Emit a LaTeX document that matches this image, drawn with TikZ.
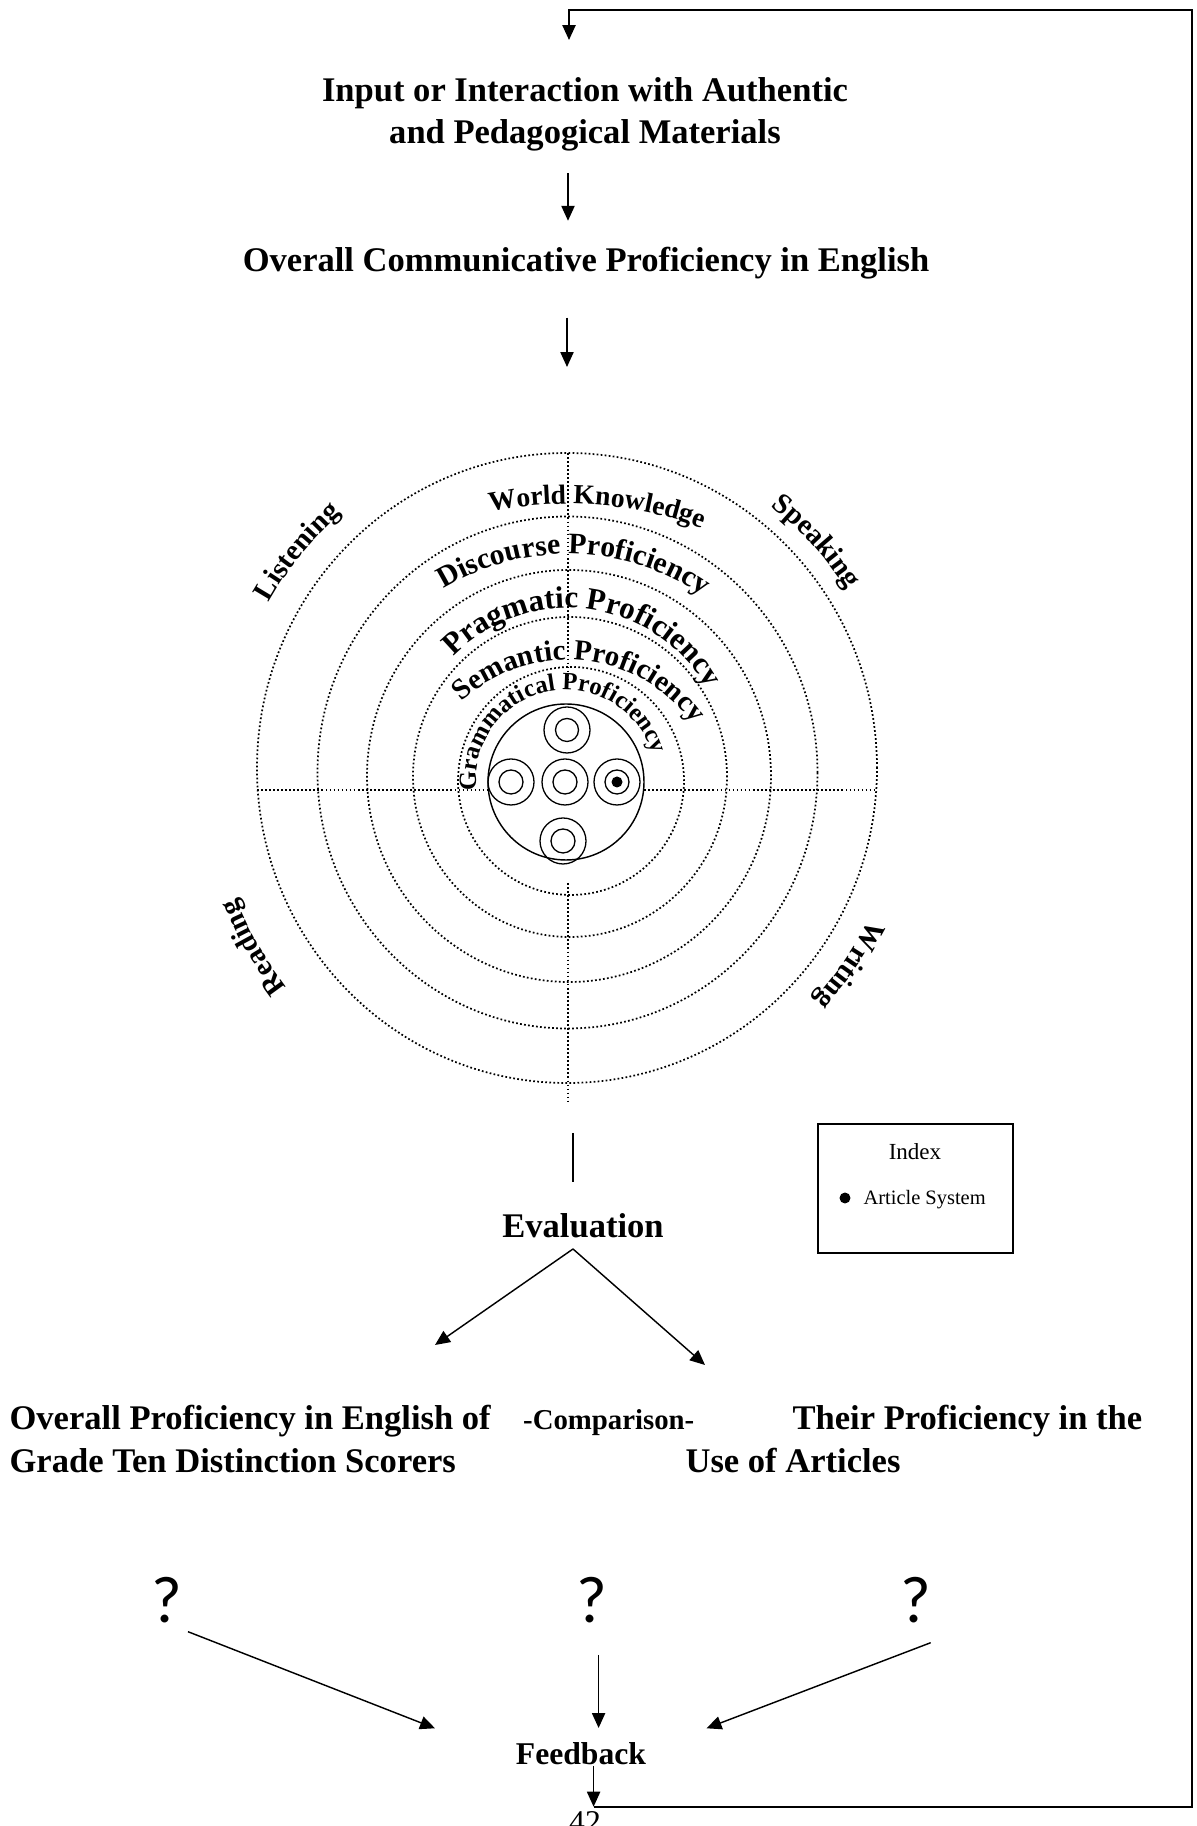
\documentclass[tikz,border=0pt]{standalone}
\usepackage{fontspec}
\setmainfont{Liberation Serif}
\newfontfamily\qfont{Carlito}
\usetikzlibrary{arrows.meta,decorations.text}

\tikzset{
  arr/.style={-{Triangle[length=5.2pt,width=4.6pt]}, line width=0.5pt},
  ring/.style={line width=0.6pt, dash pattern=on 0.6pt off 0.8pt},
  sat/.style={line width=0.45pt},
  big/.style={font=\fontsize{12}{14.8}\selectfont\bfseries, inner sep=0pt},
  qm/.style={font=\qfont\fontsize{23}{23}\selectfont, inner sep=0pt, anchor=base},
  lab/.style 2 args={decorate, decoration={text along path, text align=center,
      text={|\fontsize{#1}{#1}\selectfont\bfseries|#2}}},
}

\begin{document}
\begin{tikzpicture}[x=0.0122cm, y=0.0122cm]
\useasboundingbox (0,0) rectangle (1197,1826);

% rings of proficiency
\draw[ring] (567,1058) ellipse [x radius=310, y radius=315];
\draw[ring] (567.5,1053.5) ellipse [x radius=250, y radius=256];
\draw[ring] (569,1050) ellipse [x radius=202, y radius=206];
\draw[ring] (570,1049) ellipse [x radius=157, y radius=160];
\draw[ring] (571,1045) ellipse [x radius=113, y radius=114];
\draw[ring] (257,1036) -- (877,1036);
\draw[ring] (568,1373) -- (568,1144);
\draw[ring] (568,943) -- (568,723);

% core
\draw[line width=0.5pt, fill=white] (566,1044) circle [radius=78];
\draw[sat] (567,1096) circle [radius=23] (567,1096) circle [radius=11.5];
\draw[sat] (511,1044) circle [radius=23] (511,1044) circle [radius=12];
\draw[sat] (565,1044) circle [radius=23] (565,1044) circle [radius=12];
\draw[sat] (617,1044) circle [radius=23] (617,1044) circle [radius=12];
\draw[sat] (563,985) circle [radius=23] (563,985) circle [radius=12];
\fill (617,1044) circle [radius=5.5];

% skills
\path[lab={10}{Listening}] (567,1056) ++(166:342) arc[start angle=166, end angle=116, radius=342];
\path[lab={10}{Speaking}] (567,1056) ++(67.5:333) arc[start angle=67.5, end angle=17.5, radius=333];
\path[lab={10}{Reading}] (567,1056) ++(234.5:355) arc[start angle=234.5, end angle=184.5, radius=355];
\path[lab={10}{Writing}] (567,1056) ++(350.3:337) arc[start angle=350.3, end angle=300.3, radius=337];

% competences
\path[lab={9.6}{World Knowledge}] (568,939) ++(110.6:383) arc[start angle=110.6, end angle=60.6, radius=383];
\path[lab={10.3}{Discourse Proficiency}] (568,1034) ++(133.5:238) arc[start angle=133.5, end angle=43.5, radius=238];
\path[lab={10.8}{Pragmatic Proficiency}] (568,1058) ++(147.8:160) arc[start angle=147.8, end angle=17.8, radius=160];
\path[lab={10.1}{Semantic Proficiency}] (568,1012) ++(149.6:154) arc[start angle=149.6, end angle=19.6, radius=154];
\path[lab={8.6}{Grammatical Proficiency}] (566,1046) ++(199:90) arc[start angle=199, end angle=4, radius=90];

% texts
\node[big, anchor=north, align=center] (inp) at (585,1749.4) {Input or Interaction with Authentic\\and Pedagogical Materials};
\node[big, anchor=base] (ocp) at (586,1554) {Overall Communicative Proficiency in English};
\node[big, anchor=base] (eval) at (583,588) {Evaluation};
\node[big, anchor=base west] (ovl1) at (9,396) {Overall Proficiency in English of};
\node[big, anchor=base west] (ovl2) at (9,353) {Grade Ten Distinction Scorers};
\node[big, anchor=base west, font=\fontsize{10}{12}\selectfont\bfseries] (cmp) at (522.6,396) {-Comparison-};
\node[big, anchor=base west] (thr1) at (792,396) {Their Proficiency in the};
\node[big, anchor=base west] (thr2) at (685,353) {Use of Articles};
\node[qm] (q1) at (167,203) {?};
\node[qm] (q2) at (592,203) {?};
\node[qm] (q3) at (916,203) {?};
\node[big, anchor=base, font=\fontsize{11}{13}\selectfont\bfseries] (fb) at (581,61) {Feedback};
\node[inner sep=0pt, anchor=base, font=\fontsize{11}{13}\selectfont] (pg) at (585,-7) {42};

% index
\node[draw, line width=0.6pt, inner sep=0pt, minimum width=2.379cm, minimum height=1.574cm] (idx) at (915.2,637.2) {};
\node[inner sep=0pt, font=\fontsize{8}{9}\selectfont] (idxt) at (915,674) {Index};
\node[circle, fill, inner sep=0pt, minimum size=0.134cm] (bul) at (845,628) {};
\node[inner sep=0pt, anchor=west, font=\fontsize{7.1}{8.5}\selectfont] (art) at (863,626) {Article System};

% connectors
\coordinate (lb) at (593.6,19.3);
\coordinate (rt) at (1192,1816);
\coordinate (tp) at (569,1816);
\coordinate (in) at (569,1786);
\coordinate (cp) at (567,1459);
\coordinate (vt) at (573,693);
\coordinate (ltip) at (435,481);
\coordinate (rtip) at (705,461);
\coordinate (fl) at (435,97.7);
\coordinate (fm) at (598.6,98);
\coordinate (fr) at (706.5,97.7);

\draw[arr] (fb.south -| lb) -- (lb);
\draw[arr, line width=0.6pt] (lb) -| (rt) -- (tp) -- (in);
\draw[arr] ([shift={(-17,-21.5)}]inp.south) -- ([shift={(-18,26.3)}]ocp.north);
\draw[arr] ([shift={(-19,-37.5)}]ocp.south) -- (cp);
\draw[line width=0.6pt] (vt) -- ([shift={(-10,31.6)}]eval.north);
\draw[arr] ([shift={(-10,-10)}]eval.south) -- (ltip);
\draw[arr] ([shift={(-10,-10)}]eval.south) -- (rtip);
\draw[arr] ([shift={(21,-8.7)}]q1.base) -- (fl);
\draw[arr] ([shift={(6.6,-32)}]q2.base) -- (fm);
\draw[arr] ([shift={(14.7,-19.7)}]q3.base) -- (fr);
\end{tikzpicture}
\end{document}
